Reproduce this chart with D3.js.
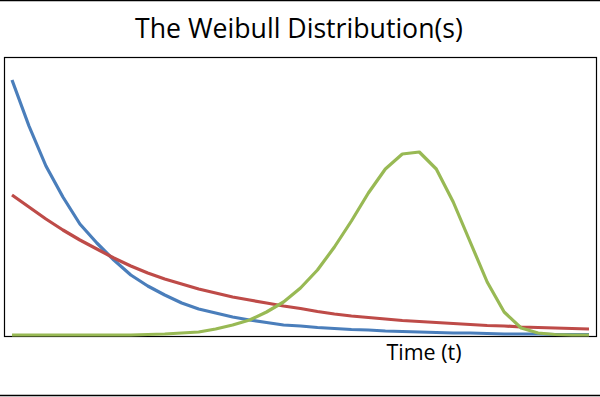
<!DOCTYPE html>
<html>
<head>
<meta charset="utf-8">
<script src="https://cdn.jsdelivr.net/npm/d3@7"></script>
<style>
  body { margin: 0; background: #fff; }
  svg { display: block; }
</style>
</head>
<body>
<div id="vis"></div>
<script>
// Time steps (index of each sample along the x axis)
const TIMES = d3.range(0, 35);

// Weibull density values, one per time step
const BLUE_VALUES = [2.55, 2.09, 1.69, 1.38, 1.11, 0.92, 0.75, 0.60, 0.49, 0.40,
                     0.32, 0.26, 0.22, 0.18, 0.15, 0.125, 0.10, 0.09, 0.075, 0.065,
                     0.055, 0.05, 0.04, 0.035, 0.03, 0.025, 0.02, 0.02, 0.015, 0.01,
                     0.01, 0.01, 0.005, 0.005, 0.005];
const RED_VALUES = [1.40, 1.28, 1.16, 1.05, 0.95, 0.86, 0.77, 0.69, 0.62, 0.56,
                    0.51, 0.46, 0.42, 0.38, 0.35, 0.32, 0.29, 0.265, 0.235, 0.21,
                    0.19, 0.175, 0.16, 0.145, 0.135, 0.125, 0.115, 0.105, 0.095, 0.09,
                    0.08, 0.075, 0.07, 0.065, 0.06];
const GREEN_VALUES = [0, 0, 0, 0, 0, 0, 0, 0, 0.005, 0.01,
                      0.02, 0.03, 0.06, 0.10, 0.15, 0.23, 0.33, 0.47, 0.65, 0.88,
                      1.14, 1.42, 1.66, 1.81, 1.83, 1.66, 1.33, 0.93, 0.53, 0.23,
                      0.07, 0.02, 0.005, 0, 0];

const SERIES_NAMES = ["blue", "red", "green"];
const TITLE = "The Weibull Distribution(s)";
const X_LABEL = "Time (t)";

// Frame and plot box
const FRAME_WIDTH = 600;
const FRAME_HEIGHT = 397;
const BOX = {left: 4, right: 596, top: 57, bottom: 336};
const COLORS = {blue: "#4a7ebb", red: "#be4b48", green: "#98b954"};

const FRAME = d3.select("#vis")
                .append("svg")
                  .attr("width", FRAME_WIDTH)
                  .attr("height", FRAME_HEIGHT);

// outer rules at top and bottom
FRAME.append("line")
     .attr("x1", 0).attr("x2", FRAME_WIDTH)
     .attr("y1", 0.5).attr("y2", 0.5)
     .attr("stroke", "#000").attr("stroke-width", 1.5);
FRAME.append("line")
     .attr("x1", 0).attr("x2", FRAME_WIDTH)
     .attr("y1", 395.5).attr("y2", 395.5)
     .attr("stroke", "#000").attr("stroke-width", 1.5);

// plot area border
FRAME.append("rect")
     .attr("x", BOX.left + 0.5)
     .attr("y", BOX.top + 0.5)
     .attr("width", BOX.right - BOX.left)
     .attr("height", BOX.bottom - BOX.top)
     .attr("fill", "none")
     .attr("stroke", "#000")
     .attr("stroke-width", 1.2);

// scales
const X_SCALE = d3.scaleLinear()
                  .domain([0, 34])
                  .range([12, 589]);
const Y_SCALE = d3.scaleLinear()
                  .domain([0, 2.8])
                  .range([335, 55]);

const series = [
  {name: SERIES_NAMES[0], values: BLUE_VALUES},
  {name: SERIES_NAMES[1], values: RED_VALUES},
  {name: SERIES_NAMES[2], values: GREEN_VALUES}
];

const line = d3.line()
               .x((d, i) => X_SCALE(TIMES[i]))
               .y((d) => Y_SCALE(d));

FRAME.selectAll("path.series")
     .data(series)
     .enter()
     .append("path")
       .attr("class", "series")
       .attr("d", (d) => line(d.values))
       .attr("fill", "none")
       .attr("stroke", (d) => COLORS[d.name])
       .attr("stroke-width", 3.2)
       .attr("stroke-linejoin", "round");

// fit a text to a target width
function fitText(sel, width) {
  const w = sel.node().getComputedTextLength();
  const size = parseFloat(sel.attr("font-size"));
  sel.attr("font-size", (size * width / w).toFixed(2));
}

// title
const title = FRAME.append("text")
     .attr("x", 299)
     .attr("y", 38)
     .attr("text-anchor", "middle")
     .attr("font-family", "'Open Sans', sans-serif")
     .attr("font-size", 24)
     .attr("fill", "#000")
     .text(TITLE);
fitText(title, 328);

// x axis label
const xLabel = FRAME.append("text")
     .attr("x", 424)
     .attr("y", 360)
     .attr("text-anchor", "middle")
     .attr("font-family", "'Open Sans', sans-serif")
     .attr("font-size", 18)
     .attr("fill", "#000")
     .text(X_LABEL);
fitText(xLabel, 75);
</script>
</body>
</html>
